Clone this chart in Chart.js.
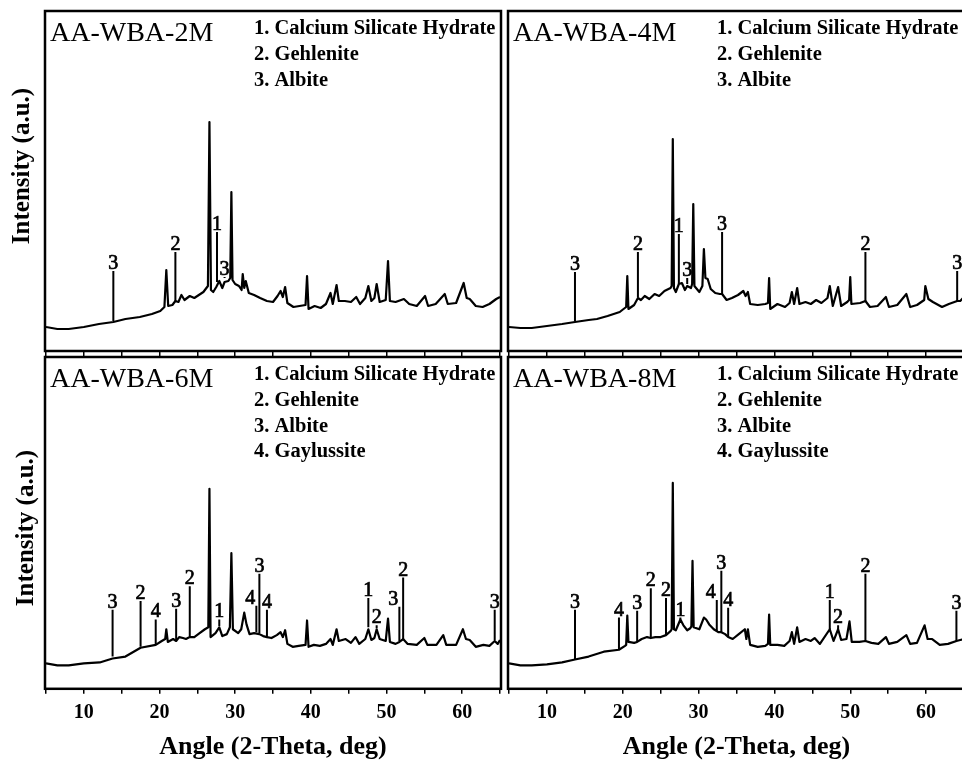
<!DOCTYPE html>
<html>
<head>
<meta charset="utf-8">
<script src="https://cdn.jsdelivr.net/npm/chart.js@4.4.1/dist/chart.umd.min.js"></script>
<style>
html, body { margin: 0; padding: 0; background: #fff; overflow: hidden; width: 962px; height: 763px; }
canvas { position: absolute; }
</style>
</head>
<body>
<canvas id="c2M" width="504" height="356" style="left:0;top:0"></canvas>
<canvas id="c4M" width="462" height="356" style="left:504px;top:0"></canvas>
<canvas id="c6M" width="504" height="411" style="left:0;top:352px"></canvas>
<canvas id="c8M" width="462" height="411" style="left:504px;top:352px"></canvas>
<script>
// XRD traces (angle in 2-theta deg, intensity in a.u.)
const angle2M = [5, 6.5, 8, 10, 12, 13.9, 15.5, 17.4, 19, 20.1, 20.65, 20.9, 21.15, 21.7, 22.1, 22.5, 22.9, 23.3, 24.0, 24.6, 25.2, 25.8, 26.4, 26.6, 26.8, 27.1, 27.5, 27.9, 28.3, 28.6, 29.1, 29.35, 29.5, 29.65, 30.0, 30.5, 30.85, 31.0, 31.2, 31.4, 31.8, 32.5, 33.3, 34.2, 35.0, 35.6, 36.0, 36.3, 36.6, 36.9, 37.7, 38.5, 39.3, 39.5, 39.7, 40.5, 41.3, 42.0, 42.6, 42.9, 43.4, 43.7, 44.5, 45.3, 46.0, 46.5, 47.2, 47.6, 48.0, 48.4, 48.7, 49.1, 49.9, 50.2, 50.45, 51.2, 52.3, 53.0, 54.0, 55.1, 55.5, 56.5, 57.7, 58.1, 59.2, 60.2, 60.6, 61.0, 61.8, 62.7, 63.6, 64.5, 65];
const int2M = [23, 21, 21, 23, 26, 28, 31, 33, 36, 39, 43, 80, 44, 45, 49, 48, 55, 50, 54, 52, 55, 58, 64, 228, 60, 58, 63, 69, 62, 68, 69, 72, 158, 70, 66, 64, 60, 76, 62, 69, 57, 55, 52, 49, 48, 54, 59, 53, 63, 47, 43, 44, 45, 74, 41, 44, 42, 46, 57, 46, 65, 49, 49, 48, 53, 46, 52, 64, 49, 52, 66, 48, 50, 89, 49, 48, 51, 46, 44, 54, 44, 46, 56, 46, 47, 67, 52, 51, 44, 43, 46, 51, 53];

const angle4M = [5, 6.5, 8, 10, 12, 13.7, 15.5, 16.6, 18, 19.6, 20.45, 20.6, 20.75, 21.5, 22.0, 22.4, 22.9, 23.5, 24.2, 24.8, 25.5, 26.3, 26.45, 26.6, 26.75, 27.0, 27.4, 27.8, 28.2, 28.5, 29.0, 29.15, 29.3, 29.45, 30.1, 30.5, 30.7, 30.9, 31.2, 31.6, 32.2, 32.8, 33.1, 33.7, 34.4, 35.2, 35.9, 36.2, 36.5, 36.8, 37.8, 38.8, 39.15, 39.3, 39.45, 40.4, 41.4, 42.0, 42.3, 42.6, 43.0, 43.3, 44.1, 44.8, 45.5, 46.2, 47.0, 47.3, 47.7, 48.4, 48.8, 49.6, 49.85, 50.0, 50.15, 51.3, 52.0, 52.6, 53.6, 54.7, 55.1, 56.2, 57.4, 57.9, 58.8, 59.75, 59.9, 60.3, 60.9, 62.1, 63.0, 64.1, 64.5, 65];
const int4M = [23, 22, 22, 24, 26, 28, 30, 31, 34, 38, 43, 74, 41, 45, 52, 50, 54, 51, 56, 54, 59, 62, 64, 211, 62, 58, 66, 67, 60, 64, 62, 66, 146, 64, 58, 64, 101, 72, 71, 61, 57, 56, 56, 50, 52, 55, 59, 54, 58, 46, 45, 46, 47, 72, 41, 46, 43, 47, 58, 46, 62, 46, 48, 46, 50, 47, 52, 64, 44, 63, 44, 48, 50, 73, 46, 47, 49, 43, 44, 53, 43, 45, 56, 43, 45, 50, 64, 51, 48, 43, 46, 49, 49, 53];

const angle6M = [5, 6.5, 8, 10, 12.1, 13.8, 15.5, 17.5, 19.5, 20.3, 20.75, 20.9, 21.1, 21.8, 22.2, 22.6, 23.1, 23.5, 24.0, 24.6, 25.3, 26.0, 26.45, 26.6, 26.75, 27.4, 27.9, 28.3, 28.9, 29.3, 29.5, 29.7, 30.4, 30.8, 31.2, 31.5, 31.9, 32.5, 33.2, 33.7, 34.2, 34.8, 35.5, 36.0, 36.3, 36.6, 36.9, 37.6, 38.4, 39.3, 39.5, 39.7, 40.4, 41.2, 42.0, 42.6, 42.9, 43.4, 43.7, 44.6, 45.3, 45.9, 46.4, 47.2, 47.6, 48.0, 48.4, 48.7, 49.1, 49.9, 50.2, 50.45, 51.2, 51.7, 52.2, 52.8, 54.0, 55.0, 55.4, 56.6, 57.5, 57.9, 59.2, 60.1, 60.5, 61.0, 61.8, 62.8, 63.6, 64.3, 64.7, 65];
const int6M = [25, 23, 23, 25, 26, 30, 32, 41, 44, 48, 50, 60, 47, 50, 48, 52, 51, 50, 52, 52, 56, 60, 62, 204, 52, 56, 62, 53, 55, 62, 138, 60, 56, 60, 77, 65, 55, 56, 55, 53, 52, 51, 54, 57, 52, 59, 45, 42, 43, 44, 69, 42, 44, 43, 45, 50, 44, 60, 48, 50, 46, 52, 45, 50, 60, 49, 51, 60, 50, 48, 71, 47, 45, 47, 50, 45, 44, 51, 44, 44, 54, 44, 44, 60, 50, 49, 42, 44, 43, 48, 45, 49];

const angle8M = [5, 6.5, 8, 10, 12, 13.7, 15.5, 17.5, 19.5, 20.3, 20.45, 20.6, 20.75, 21.5, 21.9, 22.5, 23.2, 23.7, 24.3, 25.0, 25.7, 26.3, 26.45, 26.6, 26.75, 27.0, 27.6, 28.0, 28.5, 28.9, 29.05, 29.2, 29.35, 30.1, 30.7, 31.0, 31.4, 32.0, 32.6, 33.0, 33.5, 33.9, 34.5, 35.3, 36.1, 36.3, 36.5, 36.8, 37.8, 38.8, 39.15, 39.3, 39.45, 40.4, 41.3, 42.0, 42.3, 42.6, 43.0, 43.3, 44.1, 44.8, 45.3, 46.0, 47.3, 47.8, 48.4, 48.8, 49.5, 49.9, 50.2, 51.2, 52.0, 52.8, 53.7, 54.7, 55.1, 56.2, 57.4, 57.9, 58.8, 59.8, 60.2, 60.8, 61.8, 62.9, 64.0, 64.5, 65];
const int8M = [25, 23, 23, 24, 26, 29, 32, 37, 39, 43, 44, 74, 47, 46, 47, 50, 52, 51, 52, 52, 54, 58, 60, 210, 60, 59, 70, 64, 59, 61, 63, 130, 62, 60, 72, 70, 65, 60, 57, 57, 55, 52, 50, 55, 60, 50, 60, 44, 42, 43, 45, 75, 44, 44, 43, 48, 57, 45, 62, 47, 50, 48, 51, 45, 60, 48, 60, 49, 50, 68, 47, 47, 48, 46, 45, 52, 45, 47, 54, 45, 46, 64, 50, 50, 44, 45, 48, 49, 50];

// phase markers: angle, line foot, line top, phase number
const mk2MAngle = [13.9, 22.1, 27.6, 28.6];
const mk2MBase = [29, 49, 68, 72];
const mk2MTop = [79, 98, 118, 73];
const mk2MPhase = ['3', '2', '1', '3'];

const mk4MAngle = [13.7, 22.0, 27.4, 28.5, 33.1, 52.0, 64.1];
const mk4MBase = [29, 53, 66, 66, 56, 49, 49];
const mk4MTop = [78, 98, 116, 72, 118, 98, 79];
const mk4MPhase = ['3', '2', '1', '3', '3', '2', '3'];

const mk6MAngle = [13.8, 17.5, 19.5, 22.2, 24.0, 27.9, 32.8, 33.2, 34.2, 47.6, 48.7, 51.7, 52.2, 64.3];
const mk6MBase = [32, 42, 45, 49, 53, 63, 57, 56, 52, 62, 61, 48, 50, 49];
const mk6MTop = [80, 89, 70, 81, 104, 70, 84, 117, 80, 92, 64, 83, 113, 80];
const mk6MPhase = ['3', '2', '4', '3', '2', '1', '4', '3', '4', '1', '2', '3', '2', '3'];

const mk8MAngle = [13.7, 19.5, 21.9, 23.7, 25.7, 27.6, 32.4, 33.0, 33.9, 47.3, 48.4, 52.0, 64.0];
const mk8MBase = [29, 39, 47, 51, 54, 70, 58, 57, 52, 60, 60, 48, 48];
const mk8MTop = [80, 72, 79, 102, 92, 72, 90, 120, 82, 90, 64, 117, 79];
const mk8MPhase = ['3', '4', '3', '2', '2', '1', '4', '3', '4', '1', '2', '2', '3'];

const phases3 = ['1. Calcium Silicate Hydrate', '2. Gehlenite', '3. Albite'];
const phases4 = ['1. Calcium Silicate Hydrate', '2. Gehlenite', '3. Albite', '4. Gaylussite'];

const serif = '"Liberation Serif", "Times New Roman", serif';
Chart.defaults.color = '#000';
Chart.defaults.font.family = serif;

// frame, sample name, phase list, marker numbers, y title
const decor = {
    id: 'decor',
    afterDraw(chart, args, o) {
        const { ctx, chartArea: a } = chart;
        const x = chart.scales.x, y = chart.scales.y;
        ctx.save();
        ctx.strokeStyle = '#000';
        ctx.lineWidth = 2.5;
        ctx.strokeRect(a.left - 1, a.top - 1, a.width + 2, a.height + 2);

        ctx.fillStyle = '#000';
        ctx.textAlign = 'left';
        ctx.textBaseline = 'alphabetic';
        ctx.font = '28px ' + serif;
        ctx.fillText(o.name, a.left + 4, a.top + 29);
        ctx.font = 'bold 20.5px ' + serif;
        o.legend.forEach((t, i) => ctx.fillText(t, a.left + 208, a.top + 22 + i * 25.8));

        // peak numbers: regular face, slightly thickened like the print
        ctx.font = '20px ' + serif;
        ctx.lineWidth = 0.7;
        o.angle.forEach((ang, i) => {
            const px = x.getPixelForValue(ang);
            const py = y.getPixelForValue(o.top[i]);
            let align = 'center', dx = 0;
            o.angle.forEach((b, j) => {
                if (j !== i && o.top[j] > o.top[i] && Math.abs(b - ang) < 0.75) {
                    if (b > ang) { align = 'right'; dx = -1; } else { align = 'left'; dx = 1; }
                }
            });
            ctx.textAlign = align;
            ctx.fillText(o.phase[i], px + dx, py - 2);
            ctx.strokeText(o.phase[i], px + dx, py - 2);
        });

        if (o.yTitle) {
            ctx.translate(o.yTitle[0], o.yTitle[1]);
            ctx.rotate(-Math.PI / 2);
            ctx.textAlign = 'center';
            ctx.textBaseline = 'middle';
            ctx.font = 'bold 25px ' + serif;
            ctx.fillText('Intensity (a.u.)', 0, 0);
        }
        ctx.restore();
    }
};

function makeChart(id, angle, inten, mkAngle, mkBase, mkTop, mkPhase, name, legend, bottomRow, yTitle, padding) {
    const trace = angle.map((a, i) => ({ x: a, y: inten[i] }));
    const sticks = mkAngle.flatMap((a, i) => [{ x: a, y: mkBase[i] }, { x: a, y: mkTop[i] }, { x: a, y: null }]);
    new Chart(document.getElementById(id), {
        type: 'line',
        data: {
            datasets: [
                { data: trace, borderColor: '#000', borderWidth: 2.2, pointRadius: 0, tension: 0, borderJoinStyle: 'round' },
                { data: sticks, borderColor: '#000', borderWidth: 2, pointRadius: 0, spanGaps: false }
            ]
        },
        options: {
            responsive: false,
            animation: false,
            events: [],
            layout: { padding },
            plugins: {
                legend: { display: false },
                tooltip: { enabled: false },
                decor: { name, legend, angle: mkAngle, top: mkTop, phase: mkPhase, yTitle }
            },
            scales: {
                x: {
                    type: 'linear', min: 5, max: 65,
                    afterFit: s => { s.paddingLeft = 0; s.paddingRight = 0; },
                    ticks: {
                        display: bottomRow, stepSize: 5, autoSkip: false, maxRotation: 0, padding: 7,
                        font: { weight: 'bold', size: 20 },
                        callback: v => v % 10 === 0 ? String(v) : ''
                    },
                    grid: { display: true, drawOnChartArea: false, drawTicks: true, tickLength: 6, color: '#000', lineWidth: 1.5 },
                    border: { display: false },
                    title: {
                        display: bottomRow, text: 'Angle (2-Theta, deg)',
                        font: { weight: 'bold', size: 26 }, padding: { top: 0, bottom: 0 }
                    }
                },
                y: { display: false, min: 0, max: 338 }
            }
        },
        plugins: [decor]
    });
}

makeChart('c2M', angle2M, int2M, mk2MAngle, mk2MBase, mk2MTop, mk2MPhase, 'AA-WBA-2M', phases3, false, [23, 166], { left: 46, top: 12, right: 4, bottom: 0 });
makeChart('c4M', angle4M, int4M, mk4MAngle, mk4MBase, mk4MTop, mk4MPhase, 'AA-WBA-4M', phases3, false, null, { left: 5, top: 12, right: 2, bottom: 0 });
makeChart('c6M', angle6M, int6M, mk6MAngle, mk6MBase, mk6MTop, mk6MPhase, 'AA-WBA-6M', phases4, true, [27, 176], { left: 46, top: 6, right: 4, bottom: 0 });
makeChart('c8M', angle8M, int8M, mk8MAngle, mk8MBase, mk8MTop, mk8MPhase, 'AA-WBA-8M', phases4, true, null, { left: 5, top: 6, right: 2, bottom: 0 });
</script>
</body>
</html>
